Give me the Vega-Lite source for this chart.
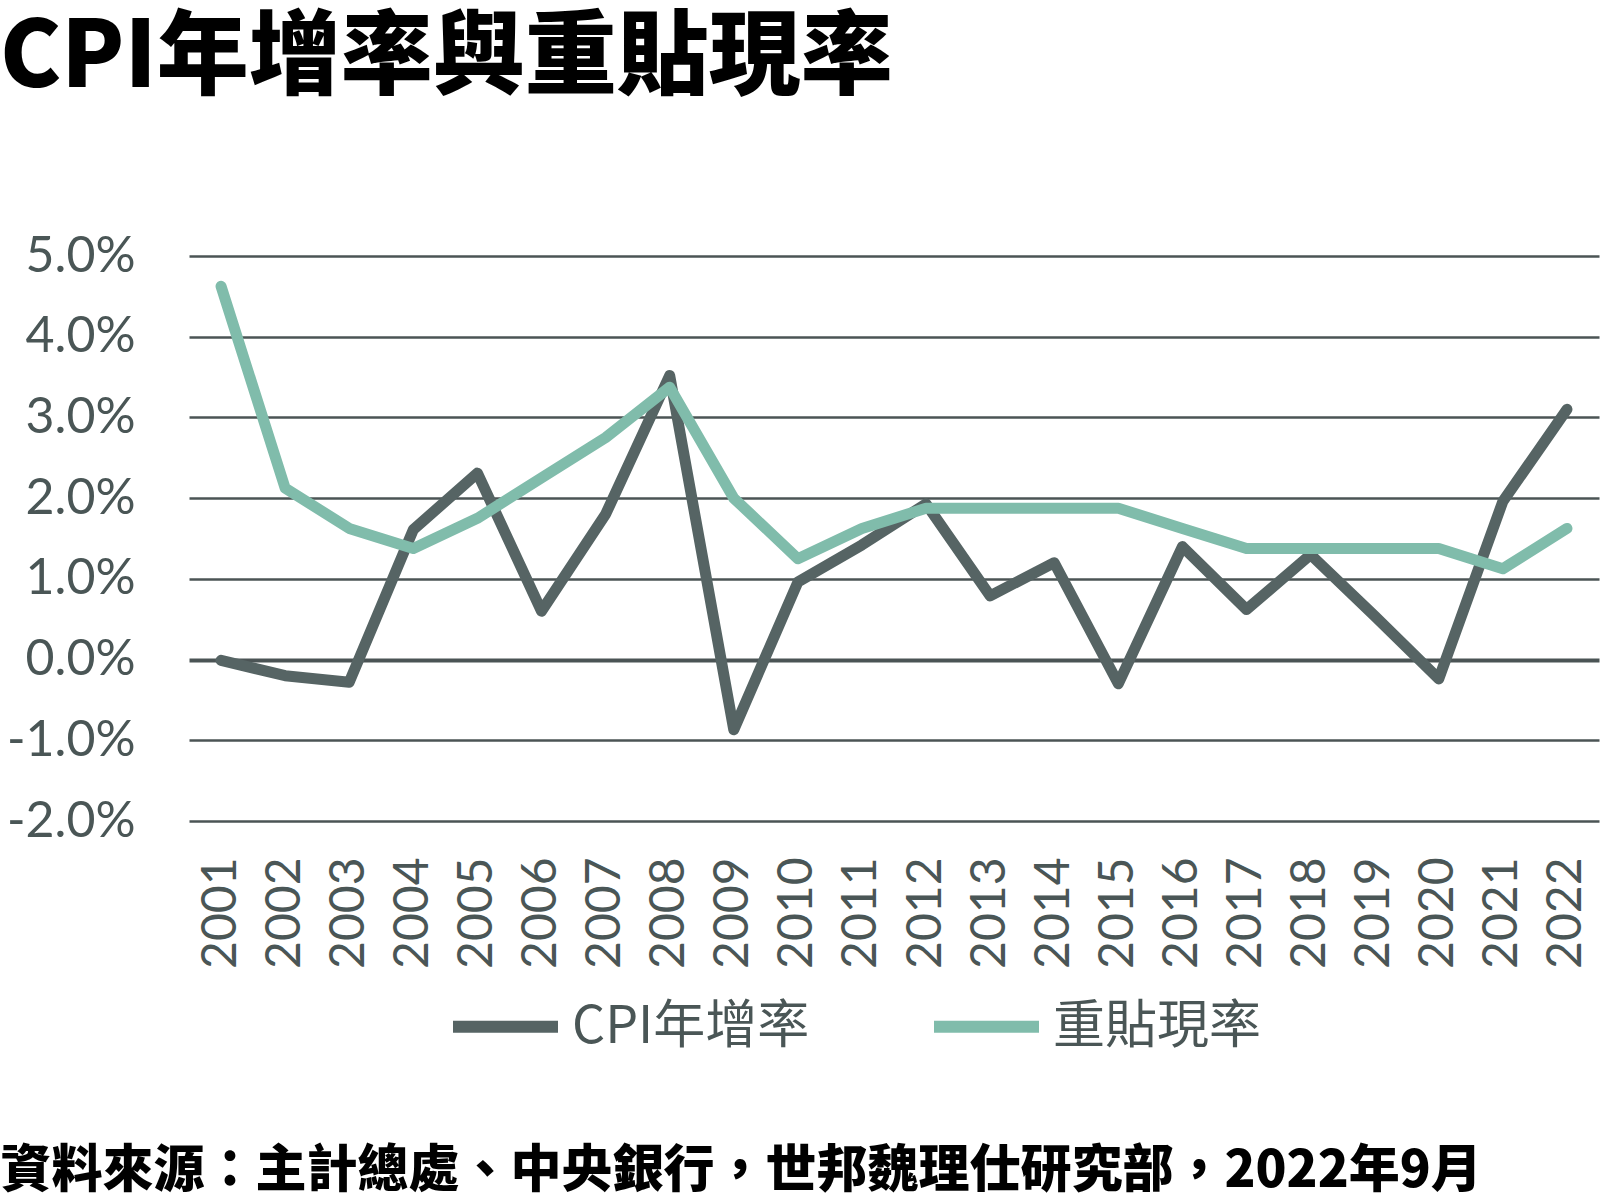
{
  "$schema": "https://vega.github.io/schema/vega-lite/v6.json",
  "autosize": {"type": "none"},
  "padding": {"left": 189, "top": 256, "right": 1, "bottom": 379},
  "width": 1410,
  "height": 565,
  "background": "#ffffff",
  "title": {
    "text": "CPI年增率與重貼現率",
    "anchor": "start",
    "frame": "group",
    "dx": -189,
    "dy": 20,
    "offset": 145,
    "font": "Noto Sans CJK TC",
    "fontSize": 92,
    "fontWeight": 900,
    "color": "#000000"
  },
  "config": {
    "view": {"stroke": null},
    "axis": {"domain": false, "ticks": false}
  },
  "data": {
    "values": [
      {"year": "2001", "series": "CPI年增率", "value": -0.01},
      {"year": "2002", "series": "CPI年增率", "value": -0.2},
      {"year": "2003", "series": "CPI年增率", "value": -0.28},
      {"year": "2004", "series": "CPI年增率", "value": 1.61},
      {"year": "2005", "series": "CPI年增率", "value": 2.31},
      {"year": "2006", "series": "CPI年增率", "value": 0.6},
      {"year": "2007", "series": "CPI年增率", "value": 1.8},
      {"year": "2008", "series": "CPI年增率", "value": 3.52},
      {"year": "2009", "series": "CPI年增率", "value": -0.87},
      {"year": "2010", "series": "CPI年增率", "value": 0.96},
      {"year": "2011", "series": "CPI年增率", "value": 1.42},
      {"year": "2012", "series": "CPI年增率", "value": 1.93},
      {"year": "2013", "series": "CPI年增率", "value": 0.79},
      {"year": "2014", "series": "CPI年增率", "value": 1.2},
      {"year": "2015", "series": "CPI年增率", "value": -0.3},
      {"year": "2016", "series": "CPI年增率", "value": 1.4},
      {"year": "2017", "series": "CPI年增率", "value": 0.62},
      {"year": "2018", "series": "CPI年增率", "value": 1.3},
      {"year": "2019", "series": "CPI年增率", "value": 0.54},
      {"year": "2020", "series": "CPI年增率", "value": -0.24},
      {"year": "2021", "series": "CPI年增率", "value": 1.96},
      {"year": "2022", "series": "CPI年增率", "value": 3.1},
      {"year": "2001", "series": "重貼現率", "value": 4.625},
      {"year": "2002", "series": "重貼現率", "value": 2.125},
      {"year": "2003", "series": "重貼現率", "value": 1.625},
      {"year": "2004", "series": "重貼現率", "value": 1.375},
      {"year": "2005", "series": "重貼現率", "value": 1.75},
      {"year": "2006", "series": "重貼現率", "value": 2.25},
      {"year": "2007", "series": "重貼現率", "value": 2.75},
      {"year": "2008", "series": "重貼現率", "value": 3.375},
      {"year": "2009", "series": "重貼現率", "value": 2.0},
      {"year": "2010", "series": "重貼現率", "value": 1.25},
      {"year": "2011", "series": "重貼現率", "value": 1.625},
      {"year": "2012", "series": "重貼現率", "value": 1.875},
      {"year": "2013", "series": "重貼現率", "value": 1.875},
      {"year": "2014", "series": "重貼現率", "value": 1.875},
      {"year": "2015", "series": "重貼現率", "value": 1.875},
      {"year": "2016", "series": "重貼現率", "value": 1.625},
      {"year": "2017", "series": "重貼現率", "value": 1.375},
      {"year": "2018", "series": "重貼現率", "value": 1.375},
      {"year": "2019", "series": "重貼現率", "value": 1.375},
      {"year": "2020", "series": "重貼現率", "value": 1.375},
      {"year": "2021", "series": "重貼現率", "value": 1.125},
      {"year": "2022", "series": "重貼現率", "value": 1.625}
    ]
  },
  "mark": {"type": "line", "strokeWidth": 11, "strokeCap": "round", "strokeJoin": "round"},
  "encoding": {
    "x": {
      "field": "year",
      "type": "ordinal",
      "axis": {
        "title": "資料來源：主計總處、中央銀行，世邦魏理仕研究部，2022年9月",
        "titleFont": "Noto Sans CJK TC",
        "titleFontSize": 51,
        "titleFontWeight": 900,
        "titleColor": "#000000",
        "titleAlign": "left",
        "titleAnchor": "start",
        "titleBaseline": "alphabetic",
        "titleX": -189,
        "titleY": 365,
        "labelAngle": -90,
        "labelFont": "Lato",
        "labelFontSize": 48,
        "labelColor": "#4a5656",
        "labelPadding": 36,
        "grid": false
      }
    },
    "y": {
      "field": "value",
      "type": "quantitative",
      "scale": {"domain": [-2, 5], "nice": false, "zero": false},
      "axis": {
        "title": null,
        "values": [-2, -1, 0, 1, 2, 3, 4, 5],
        "labelExpr": "(datum.value < 0 ? '-' : '') + format(abs(datum.value), '.1f') + '%'",
        "labelFont": "Lato",
        "labelFontSize": 50,
        "labelColor": "#4a5656",
        "labelPadding": 54,
        "grid": true,
        "gridColor": "#4b5455",
        "gridOpacity": 1,
        "gridWidth": {"condition": {"test": "datum.value === 0", "value": 4}, "value": 2.5}
      }
    },
    "color": {
      "field": "series",
      "type": "nominal",
      "sort": ["CPI年增率", "重貼現率"],
      "scale": {"domain": ["CPI年增率", "重貼現率"], "range": ["#566464", "#80bcab"]},
      "legend": {
        "title": null,
        "orient": "none",
        "direction": "horizontal",
        "legendX": 258,
        "legendY": 712,
        "symbolType": "stroke",
        "symbolSize": 11025,
        "symbolStrokeWidth": 12,
        "labelFont": "Noto Sans CJK TC",
        "labelFontSize": 52,
        "labelFontWeight": 400,
        "labelColor": "#4a5656",
        "labelOffset": 8,
        "columnPadding": 100,
        "labelLimit": 400
      }
    }
  }
}
